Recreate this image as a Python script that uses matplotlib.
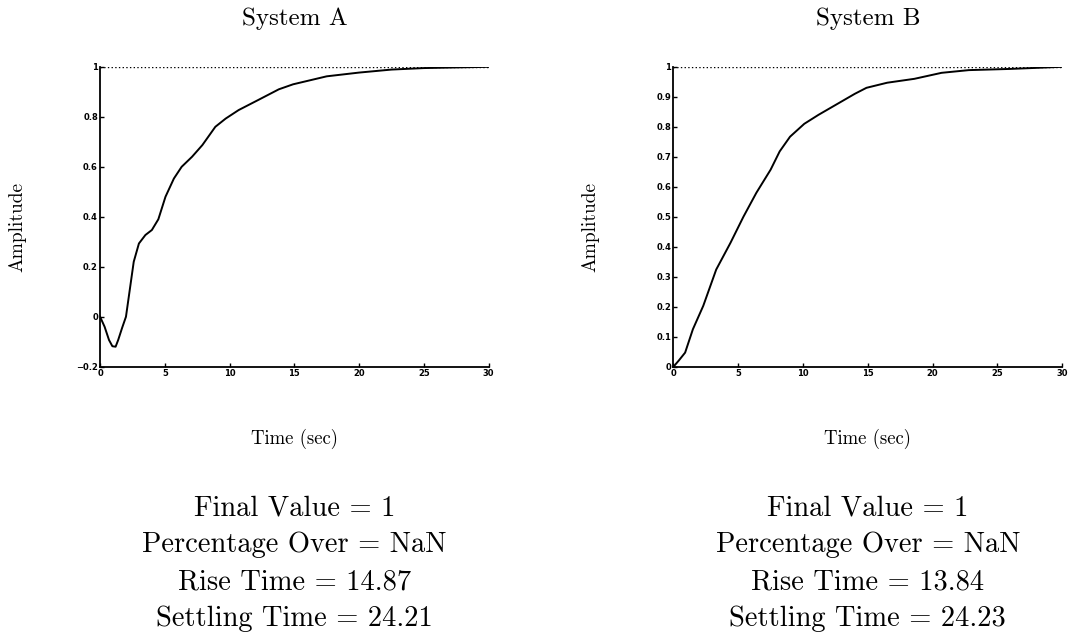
import numpy as np
import matplotlib
matplotlib.use("Agg")
import matplotlib.pyplot as plt

# step response of system A
t_a = [0, 0.35, 0.69, 0.95, 1.2, 1.4, 1.7, 2.0, 2.3, 2.6, 3.0, 3.5, 4.0, 4.5, 5.05,
       5.7, 6.3, 7.1, 7.9, 8.9, 9.7, 10.7, 12.2, 13.8, 14.9, 17.5, 20, 22.5, 25, 30]
y_a = [0, -0.04, -0.093, -0.118, -0.12, -0.093, -0.045, 0, 0.11, 0.22, 0.293, 0.327,
       0.347, 0.39, 0.48, 0.553, 0.60, 0.64, 0.687, 0.76, 0.793, 0.827, 0.867, 0.91,
       0.93, 0.962, 0.977, 0.989, 0.995, 1.0]

# step response of system B
t_b = [0, 0.4, 0.9, 1.5, 2.3, 3.3, 4.4, 5.4, 6.4, 7.5, 8.2, 9.0, 10.1, 11.2,
       12.8, 14.0, 14.9, 16.5, 18.6, 20.7, 22.8, 26, 30]
y_b = [0, 0.02, 0.047, 0.125, 0.203, 0.324, 0.413, 0.50, 0.58, 0.657, 0.718, 0.767,
       0.81, 0.84, 0.88, 0.91, 0.93, 0.947, 0.96, 0.98, 0.989, 0.993, 1.0]

titles = ["System A", "System B"]
yticks_a = [-0.2, 0, 0.2, 0.4, 0.6, 0.8, 1]
yticks_b = [0, 0.1, 0.2, 0.3, 0.4, 0.5, 0.6, 0.7, 0.8, 0.9, 1]
xticks = [0, 5, 10, 15, 20, 25, 30]

stats_a = ["Final Value = 1", "Percentage Over = NaN", "Rise Time = 14.87", "Settling Time = 24.21"]
stats_b = ["Final Value = 1", "Percentage Over = NaN", "Rise Time = 13.84", "Settling Time = 24.23"]

serif = ["cmr10", "DejaVu Serif"]

fig = plt.figure(figsize=(10.69, 6.34), dpi=100)

panels = [
    (0.0936, t_a, y_a, yticks_a, (-0.2, 1), titles[0], stats_a),
    (0.630, t_b, y_b, yticks_b, (0, 1), titles[1], stats_b),
]

for left, t, y, yt, ylim, title, stats in panels:
    ax = fig.add_axes([left, 0.4216, 0.3635, 0.473])
    ax.plot(t, y, color="black", lw=1.4)
    ax.plot([0, 30], [1, 1], color="black", lw=1.0, ls=":")
    ax.set_xlim(0, 30)
    ax.set_ylim(*ylim)
    ax.set_xticks(xticks)
    ax.set_yticks(yt)
    ax.set_xticklabels([str(v) for v in xticks])
    ax.set_yticklabels([("%g" % v).replace("-", "\u2212") for v in yt])
    for s in ["top", "right"]:
        ax.spines[s].set_visible(False)
    for s in ["left", "bottom"]:
        ax.spines[s].set_linewidth(1.3)
    ax.tick_params(direction="in", length=3, width=1, pad=1.5, labelsize=6)
    for lab in ax.get_xticklabels() + ax.get_yticklabels():
        lab.set_fontweight("bold")

    cx = left + 0.3635 / 2
    fig.text(cx, 1 - 19 / 634, title, ha="center", va="center", fontsize=18, family=serif)
    fig.text(cx, 1 - 439 / 634, "Time (sec)", ha="center", va="center", fontsize=13.5, family=serif)
    fig.text((left * 1069 - 83) / 1069, 1 - 227 / 634, "Amplitude", rotation=90,
             ha="center", va="center", fontsize=14, family=serif)
    for i, line in enumerate(stats):
        fig.text(cx, 1 - (508 + 37 * i) / 634, line, ha="center", va="center",
                 fontsize=20.5, family=serif)

fig.savefig("out.png", dpi=100)
